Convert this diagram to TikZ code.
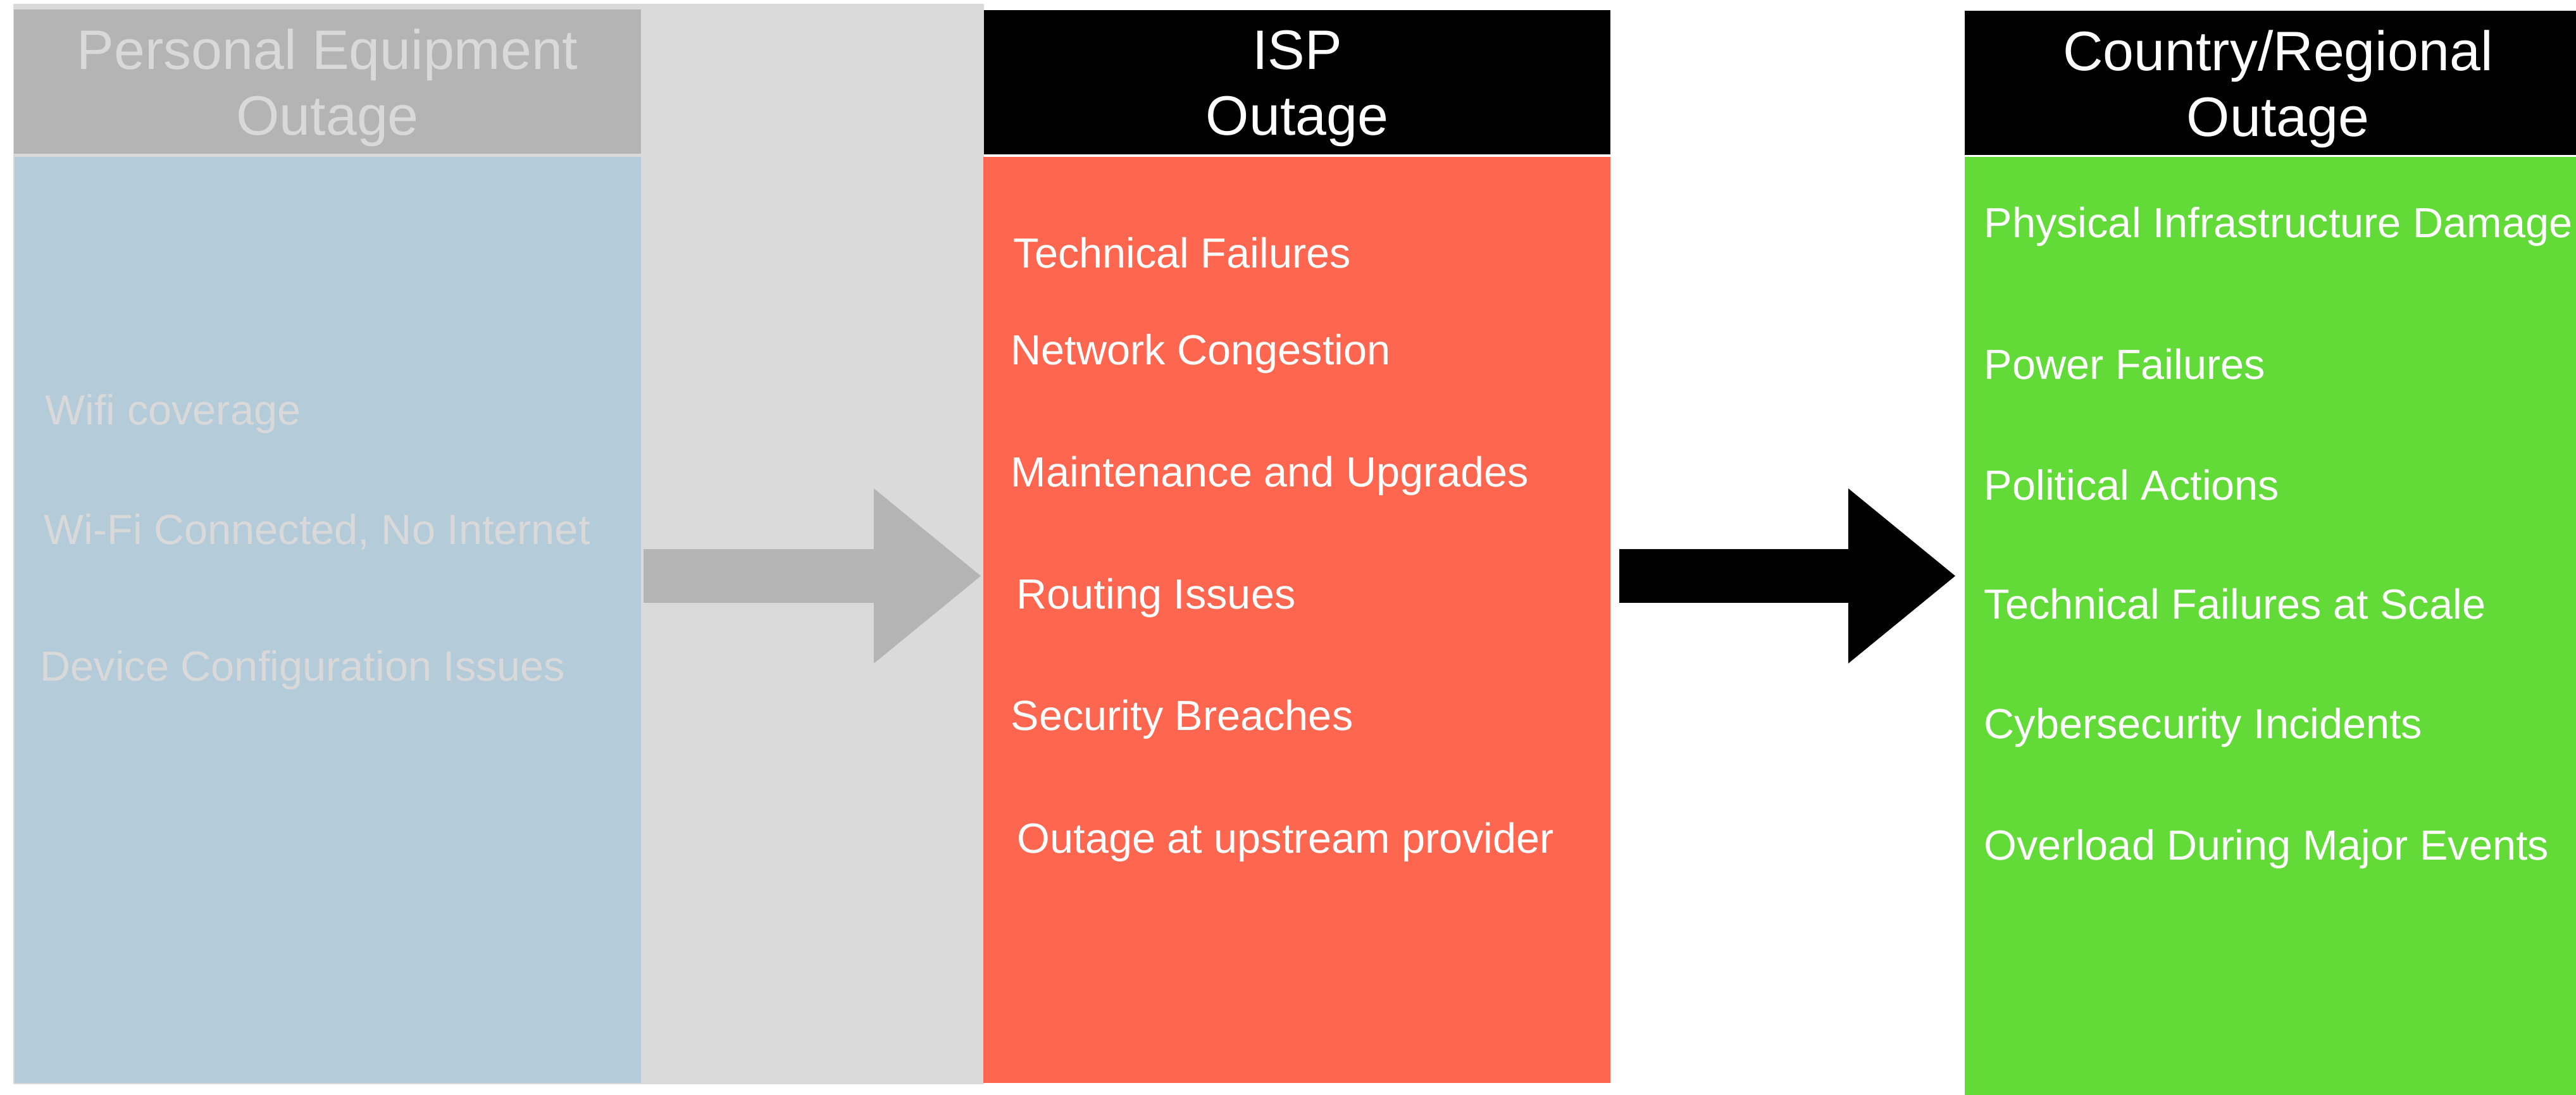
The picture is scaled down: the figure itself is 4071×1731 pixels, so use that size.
\documentclass[tikz,border=0pt]{standalone}
\usepackage{fontspec}
\setmainfont{Liberation Sans}
\usetikzlibrary{arrows.meta}

\definecolor{panelgray}{RGB}{218,218,218}
\definecolor{hdrgray}{RGB}{180,180,180}
\definecolor{paleblue}{RGB}{180,203,217}
\definecolor{ispred}{RGB}{255,102,80}
\definecolor{ctrygreen}{RGB}{98,218,55}
\definecolor{fadetext}{RGB}{217,217,217}

\begin{document}
\begin{tikzpicture}[x=0.01cm,y=-0.01cm,
      hdr/.style={fill=black,text=white,minimum width=9.9cm,minimum height=2.28cm,
        inner sep=0pt,align=center,text depth=0pt,font=\fontsize{25}{29.6}\selectfont},
      colbody/.style={minimum width=9.9cm,minimum height=14.63cm,inner sep=0pt},
      item/.style={anchor=base west,inner sep=0pt,text=white,font=\fontsize{18.95}{22}\selectfont},
      bigarrow/.style={line width=0.85cm,-{Triangle[length=1.7cm,width=2.65cm]}}]
      \path[use as bounding box] (0,0) rectangle (4071,1731);
      \clip (0,0) rectangle (4071,1731);

      % faded first column
      \node[fill=panelgray,minimum width=15.34cm,minimum height=17.07cm,inner sep=0pt]
        (panel) at (788,860.4) {};
      \node[hdr,fill=hdrgray,text=fadetext] (pe-head) at (517.7,129.2)
        {Personal Equipment\\Outage};
      \node[colbody,fill=paleblue] (pe-body) at (518.2,980.2) {};
      \node[item,text=fadetext] (pe1) at (71,672) {Wifi coverage};
      \node[item,text=fadetext] (pe2) at (69,861) {Wi-Fi Connected, No Internet};
      \node[item,text=fadetext] (pe3) at (63,1077) {Device Configuration Issues};

      % ISP
      \node[hdr] (isp-head) at (2050,130.4) {ISP\\Outage};
      \node[colbody,fill=ispred] (isp-body) at (2049.5,980.2) {};
      \node[item] (isp1) at (1601,424) {Technical Failures};
      \node[item] (isp2) at (1597,577) {Network Congestion};
      \node[item] (isp3) at (1597,770) {Maintenance and Upgrades};
      \node[item] (isp4) at (1606,963) {Routing Issues};
      \node[item] (isp5) at (1597,1155) {Security Breaches};
      \node[item] (isp6) at (1607,1348) {Outage at upstream provider};

      % country
      \node[hdr] (cr-head) at (3600,131.4) {Country/Regional\\Outage};
      \node[colbody,fill=ctrygreen,minimum height=15cm] (cr-body) at (3600,998.3) {};
      \node[item] (cr1) at (3135,376) {Physical Infrastructure Damage};
      \node[item] (cr2) at (3135,600) {Power Failures};
      \node[item] (cr3) at (3135,791) {Political Actions};
      \node[item] (cr4) at (3135,979) {Technical Failures at Scale};
      \node[item] (cr5) at (3135,1167) {Cybersecurity Incidents};
      \node[item] (cr6) at (3135,1359) {Overload During Major Events};

      \draw[bigarrow,draw=hdrgray,shorten <=0.028cm,shorten >=0.025cm]
        ([yshift=0.697cm]pe-body.east) -- ([yshift=0.697cm]isp-body.west);
      \draw[bigarrow,shorten <=0.135cm,shorten >=0.13cm]
        ([yshift=0.697cm]isp-body.east) -- ([yshift=0.697cm]isp-body.east -| cr-body.west);
\end{tikzpicture}
\end{document}
